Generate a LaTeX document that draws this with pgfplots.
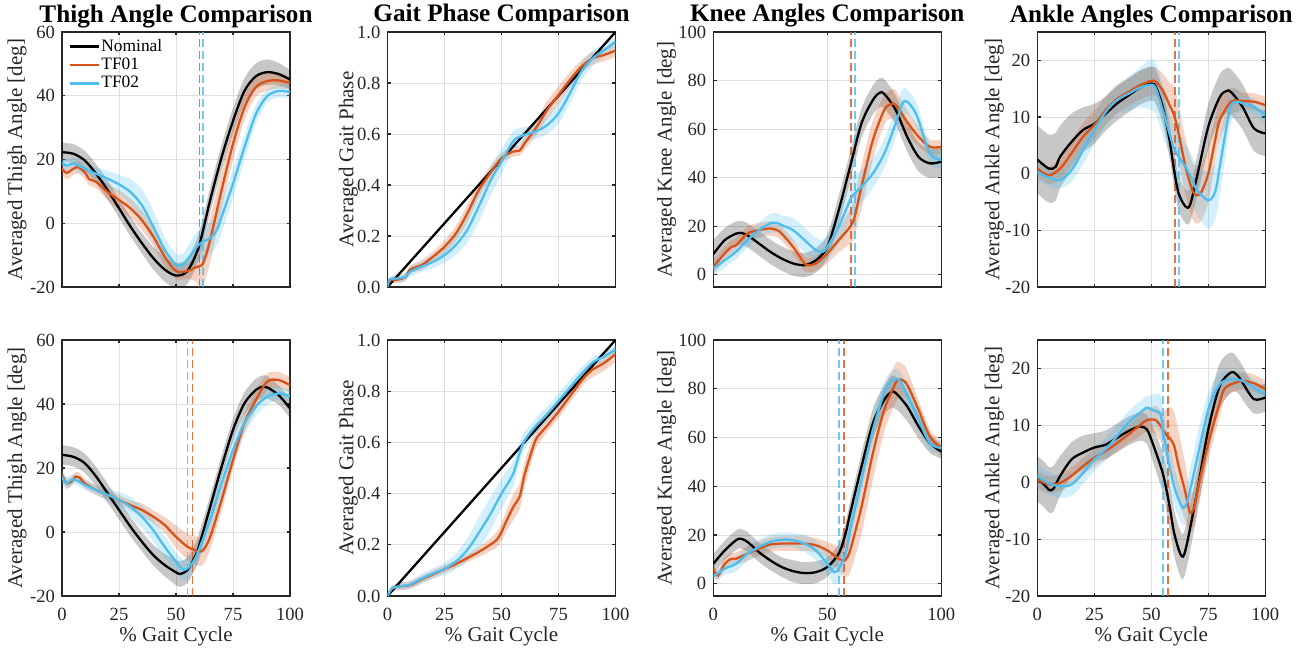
\documentclass[border=0pt]{standalone}
\usepackage{pgfplots}
\usepackage{pgfplotstable}
\pgfplotsset{compat=1.18}
\usepgfplotslibrary{fillbetween}
\usepackage{fontspec}
\setmainfont{Liberation Serif}
\definecolor{tfa}{HTML}{D95319}
\definecolor{tfb}{HTML}{4DBEEE}
\definecolor{axc}{HTML}{262626}

% ---------- Panel A: thigh, PW2S ----------
\pgfplotstableread{
x m s
0 22.3 3
5 21.8 3
10 19.7 3
15 15.5 3
20 10.4 3
25 4.7 3
30 -1 3
35 -6.2 3.2
40 -10.9 3.5
45 -14.5 3.8
50 -16.4 4
55 -15 4
60 -7.3 4
65 7.3 4
70 20.7 4
75 32.1 4
80 41.5 4
85 46.1 4
90 47.4 4
95 46.8 3.5
100 45.1 3
}\tAn
\pgfplotstableread{
x m s
0 17.1 2
2 15.8 2
5 17.1 2
7 17.6 2
10 16 2
12 13.8 2
15 13 2
20 9.8 2.5
25 7.3 3
30 4.7 3
35 1 3
40 -4.1 3
45 -10.4 3
50 -15 2.5
55 -15 2.5
58 -14 4
60 -13.5 6
62 -12.4 7
65 -5.2 7
70 10.4 6
75 24.9 5
80 36.3 4
85 42.7 3
90 44.6 3
95 44.8 2.5
100 44 2
}\tAa
\pgfplotstableread{
x m s
0 19.2 2
2 18.1 2
5 18.7 2
10 17.1 2
15 15.5 2
20 14 2.5
25 12.2 3
30 9.8 4
35 5.7 5
40 -1 5
45 -8.3 4
50 -13 3.5
53 -13 3.5
55 -11.4 4
60 -6.7 5
62 -5.7 5
65 -4.7 5
68 -2 5
70 2 5
75 12.4 4.5
80 23.8 4
85 34.2 3
90 39.9 2
95 41.5 2
100 41.2 2
}\tAb
% ---------- Panel B: gait phase, PW2S ----------
\pgfplotstableread{
x m s
0 0 0
1 0.025 0.01
5 0.03 0.015
8 0.04 0.015
10 0.069 0.015
15 0.086 0.02
20 0.119 0.02
25 0.158 0.025
30 0.21 0.03
35 0.289 0.035
40 0.38 0.03
45 0.446 0.025
50 0.505 0.02
55 0.531 0.02
58 0.535 0.02
60 0.562 0.025
65 0.622 0.03
70 0.694 0.035
75 0.753 0.035
80 0.812 0.03
85 0.864 0.025
90 0.897 0.025
95 0.91 0.025
100 0.927 0.025
}\tBa
\pgfplotstableread{
x m s
0 0 0
1 0.03 0.01
5 0.034 0.015
8 0.04 0.015
10 0.06 0.02
15 0.08 0.02
20 0.099 0.025
25 0.125 0.03
30 0.165 0.04
35 0.224 0.05
40 0.315 0.06
45 0.413 0.06
50 0.492 0.05
55 0.57 0.04
58 0.59 0.035
60 0.597 0.03
65 0.61 0.03
70 0.635 0.035
75 0.681 0.04
80 0.76 0.04
85 0.845 0.035
90 0.897 0.03
95 0.929 0.025
100 0.962 0.02
}\tBb
% ---------- Panel C: knee, PW2S ----------
\pgfplotstableread{
x m s
0 8.5 6
5 14.3 5
10 17 5
12 17.3 5
15 16.3 5
20 12.9 5
25 9.5 5
30 6.7 5
35 4.7 5
40 4 5
45 6 5
50 11.5 5
55 26.6 6
60 44.5 6
65 62.4 6
70 72 6
73 75 6
75 74.5 6
80 67.9 6
85 56.9 6
90 48.6 6
95 45.9 6
100 46.6 6
}\tCn
\pgfplotstableread{
x m s
0 3.3 3
5 8.8 3
8 11.5 3
10 12.2 3
15 17 3
20 18.4 3
25 19.1 3
28 18.4 3
30 17 3
35 11.5 3
40 4.7 3
42 4 3
45 4.7 3
50 8.8 4
55 14.3 5
60 19.8 7
62 23.9 8
65 36.3 9
70 55.5 8
75 67.9 6
78 70.3 6
80 69.9 6
85 63 5
90 56.9 4
95 52.7 3
100 52.7 3
}\tCa
\pgfplotstableread{
x m s
0 2.6 3
5 6 3
10 9.5 3
15 14.3 3
20 18.4 3
25 21.2 4
28 21.4 4
30 20.5 4
35 18.4 5
40 14.3 5
45 10.2 5
48 9.5 5
50 11.5 5
55 19.8 7
60 30.8 8
62 33.5 8
65 36.3 7
70 41.8 6
75 50 6
80 62.4 6
83 70.6 6
85 71.3 5
88 67.9 5
90 63.7 5
95 50 4
100 47.3 4
}\tCb
% ---------- Panel D: ankle, PW2S ----------
\pgfplotstableread{
x m s
0 2.5 6
5 0.9 6
8 1.2 6
10 3 5.5
15 5.6 5
20 7.7 4
25 8.8 3.5
30 10.6 3
35 12.4 3
40 13.8 3
45 15.2 3
50 15.9 3
52 15.3 3
55 11.8 3
58 5.9 3
60 0.6 3
62 -3.5 3
65 -5.8 3
67 -5.5 3
70 -0.6 3.5
75 8.3 4
80 13.5 4
83 14.6 4
85 14.4 4
90 11.8 4
95 8 4
100 7.1 4
}\tDn
\pgfplotstableread{
x m s
0 0.9 1.5
5 -0.3 1.5
10 0.9 2
15 3.6 2
20 6.5 2.5
25 8.6 2.5
30 11.2 2.5
35 13.2 2.5
40 14.4 2.5
45 15.6 2.5
50 16.4 2.5
52 16.2 2.5
55 14.7 3
58 12.1 4
60 10.3 5
62 7.1 5
65 1.2 5
68 -2.9 5
70 -3.8 5
72 -3.2 5
75 0 5
78 5.9 4
80 9.4 3.5
85 12.7 2.5
90 12.8 1.5
95 12.7 1.5
100 12.1 1.5
}\tDa
\pgfplotstableread{
x m s
0 0.3 1.5
5 -0.7 1.5
10 -1.1 1.5
15 0.6 2
20 4.1 2.5
25 7.7 2.5
30 10.9 2.5
35 13 2.5
40 14.1 3
45 15.2 3.5
50 15.7 4.5
52 15 4.5
55 11.2 4.5
58 7.1 4
60 4.4 4
62 3 4
65 1.2 4
68 -1.1 4
70 -2.9 4.5
75 -4.7 5
78 -3.2 5
80 1.2 5
83 8.3 4
85 12.1 3
88 12.7 2
90 12.4 1.5
95 11.8 1.5
100 10.3 1.5
}\tDb
% ---------- Panel E: thigh, IW2S ----------
\pgfplotstableread{
x m s
0 24.1 3
5 23.5 3
10 21.5 3
15 17.3 3
20 12.1 3
25 6.9 3
30 1.7 3
35 -3 3
40 -7.2 3.2
45 -10.3 3.5
50 -12.6 4
52 -13.1 4
55 -11.9 4
58 -8.2 4
60 -4.6 4
65 7.9 3.5
70 20.4 3.5
75 31.9 3.5
80 40.2 3.5
85 44.4 3.5
88 45.4 3.5
90 45.2 3.5
95 42.8 3
100 38.6 3
}\tEn
\pgfplotstableread{
x m s
0 17.8 1.5
2 15.2 1.5
4 15.7 1.5
6 17.3 1.5
8 16.8 1.5
10 15.2 1.5
15 13.1 1.5
20 11.6 1.5
25 10 1.5
30 8.4 1.5
35 6.9 2
40 4.8 2
45 2.2 2.5
50 -1.5 3.5
55 -4.6 4
58 -5.6 4.5
60 -6.1 4.5
62 -5.6 4.5
65 -1.5 4
70 10 3.5
75 22.5 3
80 34 3
85 41.2 3
90 47 2.5
95 47.5 2.5
100 45.9 2.5
}\tEa
\pgfplotstableread{
x m s
0 17.3 2
2 15.2 2
5 16.5 1.5
10 14.7 1.5
15 13.1 1.5
20 11.6 2
25 10 2.5
30 7.9 3
35 4.8 3.5
40 0.6 3.5
45 -4.6 3.5
50 -9.3 3
53 -11.7 3
55 -11.4 3
58 -8.8 3
60 -5.6 3.5
65 3.8 3.5
70 15.2 3.5
75 25.6 3.5
80 34 3.5
85 39.2 3
90 42.3 2.5
95 43.3 2
100 42.5 2
}\tEb
% ---------- Panel F: gait phase, IW2S ----------
\pgfplotstableread{
x m s
0 0 0
2 0.03 0.01
5 0.037 0.015
10 0.043 0.015
15 0.065 0.015
20 0.085 0.015
25 0.105 0.015
30 0.125 0.015
35 0.148 0.015
40 0.172 0.02
45 0.2 0.025
48 0.22 0.03
50 0.25 0.035
52 0.29 0.04
55 0.345 0.05
58 0.39 0.05
60 0.47 0.05
62 0.53 0.045
65 0.61 0.035
68 0.645 0.03
70 0.665 0.025
75 0.72 0.025
80 0.78 0.025
85 0.84 0.025
88 0.87 0.025
90 0.885 0.03
95 0.91 0.03
100 0.945 0.03
}\tFa
\pgfplotstableread{
x m s
0 0 0
2 0.03 0.01
5 0.037 0.015
10 0.045 0.015
15 0.068 0.02
20 0.088 0.02
25 0.106 0.025
30 0.135 0.03
35 0.18 0.045
40 0.246 0.06
45 0.318 0.065
50 0.4 0.06
55 0.475 0.05
58 0.56 0.04
60 0.605 0.035
65 0.664 0.03
70 0.71 0.03
75 0.762 0.03
80 0.814 0.03
85 0.867 0.025
90 0.912 0.02
95 0.936 0.02
100 0.962 0.02
}\tFb
% ---------- Panel G: knee, IW2S ----------
\pgfplotstableread{
x m s
0 8.2 4
5 13.7 4
10 17.9 4
12 18.5 4
15 17.2 4
20 13 4
25 9.6 4
30 6.9 4
35 5.2 4.5
40 4.4 4.5
45 4.8 4.5
50 6.9 4
55 12.4 4
58 20.6 4.5
60 28.8 5
65 48.1 5.5
70 65.9 6
75 75.5 6
78 78.6 6.5
80 78.3 6.5
85 72.8 6
90 64.6 5
95 57.7 4
100 54.3 3
}\tGn
\pgfplotstableread{
x m s
0 6.2 2
2 3.4 2
5 8.2 2.5
8 10.3 2.5
10 10.3 2.5
15 12.4 3
20 14.4 3
25 16.1 3
30 16.5 3
35 16.5 3
40 16.5 3
45 15.8 3
50 13.7 3.5
55 10.3 5
57 9.6 6
58 9.9 7
60 13.7 9
65 31.6 11
70 53.6 11
75 71.4 9
80 82.4 8
82 83.8 7
85 81.7 6
90 71.4 4
95 60.4 3
100 55.6 3
}\tGa
\pgfplotstableread{
x m s
0 3 2
5 6.2 2.5
10 8.2 3
15 12.4 3
20 15.1 3
25 17.2 3
30 18.1 3
35 17.9 3
40 16.5 3.5
45 13.7 4
50 8.2 4.5
53 4.8 5
55 6.2 5
58 12.4 5
60 22 5
65 42.6 5
70 63.2 5
75 78.3 5
78 83.1 4
80 84.1 4
82 83.1 4
85 77.6 4
90 67.3 4
95 57.7 3
100 55.6 2
}\tGb
% ---------- Panel H: ankle, IW2S ----------
\pgfplotstableread{
x m s
0 0.6 4
3 -0.4 4
5 -1.3 4
7 -1.2 4
10 1.1 3.5
15 4 3
20 5.2 3
25 6.1 2.5
30 6.6 2.5
35 7.8 2.5
40 9 2.5
45 9.8 2.5
48 9.3 2.5
50 7.5 3
55 1.6 3.5
58 -4.2 4
60 -8.9 4
63 -12.8 4
65 -11.9 4
70 -1.9 4
75 9.3 4
80 16.9 4
85 19.3 3.5
88 18.7 3
90 17.5 3
95 14.6 2.5
100 14.9 2.5
}\tHn
\pgfplotstableread{
x m s
0 0.5 1.5
5 -0.4 1.5
10 -0.1 1.5
15 1.1 1.5
20 2.8 1.5
25 4.3 1.5
30 5.5 1.5
35 6.9 1.5
40 8.4 1.5
45 10 2
48 10.9 2
52 10.9 2.5
55 9.3 3
57 8.1 5
58 7.8 5.5
60 6.4 6
62 2.8 6
65 -1.9 5
67 -5.4 3.5
69 -4.2 3
70 -1.9 3
75 6.9 3
80 14 2.5
82 16.4 2
85 17.2 1.5
90 17.8 1.5
95 17.4 1.5
100 16.4 1.5
}\tHa
\pgfplotstableread{
x m s
0 1.1 2
5 -0.2 2
10 -0.7 2
15 -0.4 2
20 1.6 2
25 4 2
30 5.8 2
35 8.1 2
40 10.5 2
45 12.2 2
48 13.1 2
50 12.8 2.5
54 12 3.5
55 9.3 4
58 2.8 4
60 -0.7 3.5
62 -3.1 3
64 -4.5 3
66 -3.1 3.5
70 4 4
75 12.8 3
80 17.2 2
85 18.1 1.5
90 17.8 1.5
95 16.6 1.5
100 15.5 1.5
}\tHb

\newcommand{\band}[4]{%
  \addplot[draw=none, name path=#4u, smooth, forget plot] table[x=x, y expr=\thisrow{m}+\thisrow{s}] {#1};
  \addplot[draw=none, name path=#4l, smooth, forget plot] table[x=x, y expr=\thisrow{m}-\thisrow{s}] {#1};
  \addplot[fill=#2, fill opacity=#3, draw=none, forget plot] fill between[of=#4u and #4l];
}
\newcommand{\mean}[2]{%
  \addplot[#2, line width=1.15pt, smooth] table[x=x, y=m] {#1};
}
\newcommand{\toline}[4]{%
  \addplot[#2, opacity=0.8, line width=0.9pt, dash pattern=on 4pt off 2pt, forget plot] coordinates {(#1,#3) (#1,#4)};
}

\pgfplotsset{
  gbase/.style={
    scale only axis, width=114pt, xmin=0, xmax=100,
    xtick={0,25,50,75,100},
    tick align=inside, tick pos=both,
    major tick length=1.6pt,
    grid=major, major grid style={draw=gray!25, line width=0.45pt},
    axis line style={draw=axc, line width=0.6pt},
    every tick/.append style={axc, line width=0.6pt},
    /pgf/number format/assume math mode=true,
    xticklabel={\pgfmathprintnumber{\tick}},
    yticklabel={\pgfmathprintnumber{\tick}},
    tick label style={font=\fontsize{9.3}{10}\selectfont, text=axc},
    xticklabel style={anchor=base, yshift=-12.25pt},
    label style={font=\fontsize{10.5}{12}\selectfont, text=axc},
    every axis title/.style={font=\fontsize{12.6}{14}\selectfont\bfseries, at={(axis description cs:0.5,1)}, anchor=base, yshift=5pt},
  },
  toprow/.style={height=127.5pt, xticklabels={}},
  botrow/.style={height=128pt, xlabel={\% Gait Cycle}, xlabel style={at={(axis description cs:0.5,-0.176)}, anchor=base}},
  thigh/.style={ymin=-20, ymax=60, ytick={-20,0,...,60}, ylabel={Averaged Thigh Angle [deg]}, ylabel style={at={(axis description cs:-0.175,0.5)}, anchor=base}},
  gait/.style={ymin=0, ymax=1, ytick={0,0.2,...,1.01}, yticklabel style={/pgf/number format/.cd, fixed, fixed zerofill, precision=1}, ylabel={Averaged Gait Phase}, ylabel style={at={(axis description cs:-0.15,0.5)}, anchor=base}},
  knee/.style={ymin=-5, ymax=100, ytick={0,20,...,100}, xtick={0,50,100}, ylabel={Averaged Knee Angle [deg]}, ylabel style={at={(axis description cs:-0.183,0.5)}, anchor=base}},
  ankle/.style={ymin=-20, ymax=25, ytick={-20,-10,...,20}, ylabel={Averaged Ankle Angle [deg]}, ylabel style={at={(axis description cs:-0.166,0.5)}, anchor=base}},
}

\begin{document}
\begin{tikzpicture}

% ===== Top row =====
\begin{axis}[gbase, toprow, thigh, at={(31pt,183.5pt)}, anchor=south west,
  title={Thigh Angle Comparison},
  legend style={at={(axis description cs:0.0,0.995)}, anchor=north west, draw=none, fill=none,
    font=\fontsize{8.7}{9}\selectfont, text=black, row sep=0.4pt, nodes={inner sep=0.7pt}},
  legend cell align=left,
  legend image code/.code={\draw[#1, line width=1.3pt] (0pt,0pt) -- (14.5pt,0pt);}]
\band{\tAn}{black}{0.22}{An}
\band{\tAa}{tfa}{0.25}{Aa}
\band{\tAb}{tfb}{0.25}{Ab}
\toline{60.3}{tfa}{-20}{60}
\toline{62.0}{tfb}{-20}{60}
\mean{\tAn}{black}
\mean{\tAa}{tfa}
\mean{\tAb}{tfb}
\legend{Nominal,TF01,TF02}
\end{axis}

\begin{axis}[gbase, toprow, gait, at={(193.75pt,183.5pt)}, anchor=south west,
  title={Gait Phase Comparison}]
\band{\tBa}{tfa}{0.25}{Ba}
\band{\tBb}{tfb}{0.25}{Bb}
\addplot[black, line width=1.15pt] coordinates {(0,0) (100,1)};
\mean{\tBa}{tfa}
\mean{\tBb}{tfb}
\end{axis}

\begin{axis}[gbase, toprow, knee, at={(356.65pt,183.5pt)}, anchor=south west,
  title={Knee Angles Comparison}]
\band{\tCn}{black}{0.22}{Cn}
\band{\tCa}{tfa}{0.25}{Ca}
\band{\tCb}{tfb}{0.25}{Cb}
\toline{60.3}{tfa}{-5}{100}
\toline{62.0}{tfb}{-5}{100}
\mean{\tCn}{black}
\mean{\tCa}{tfa}
\mean{\tCb}{tfb}
\end{axis}

\begin{axis}[gbase, toprow, ankle, at={(518.65pt,183.5pt)}, anchor=south west,
  title={Ankle Angles Comparison}]
\band{\tDn}{black}{0.22}{Dn}
\band{\tDa}{tfa}{0.25}{Da}
\band{\tDb}{tfb}{0.25}{Db}
\toline{60.3}{tfa}{-20}{25}
\toline{62.0}{tfb}{-20}{25}
\mean{\tDn}{black}
\mean{\tDa}{tfa}
\mean{\tDb}{tfb}
\node[rotate=90, anchor=base, font=\fontsize{10.5}{12}\selectfont, text=black] at (axis description cs:1.117,0.5) {PW2S};
\end{axis}

% ===== Bottom row =====
\begin{axis}[gbase, botrow, thigh, at={(31pt,29pt)}, anchor=south west]
\band{\tEn}{black}{0.22}{En}
\band{\tEa}{tfa}{0.25}{Ea}
\band{\tEb}{tfb}{0.25}{Eb}
\toline{57.2}{tfa}{-20}{60}
\toline{55.0}{tfb}{-20}{60}
\mean{\tEn}{black}
\mean{\tEa}{tfa}
\mean{\tEb}{tfb}
\end{axis}

\begin{axis}[gbase, botrow, gait, at={(193.75pt,29pt)}, anchor=south west]
\band{\tFa}{tfa}{0.25}{Fa}
\band{\tFb}{tfb}{0.25}{Fb}
\addplot[black, line width=1.15pt] coordinates {(0,0) (100,1)};
\mean{\tFa}{tfa}
\mean{\tFb}{tfb}
\end{axis}

\begin{axis}[gbase, botrow, knee, at={(356.65pt,29pt)}, anchor=south west]
\band{\tGn}{black}{0.22}{Gn}
\band{\tGa}{tfa}{0.25}{Ga}
\band{\tGb}{tfb}{0.25}{Gb}
\toline{57.2}{tfa}{-5}{100}
\toline{55.0}{tfb}{-5}{100}
\mean{\tGn}{black}
\mean{\tGa}{tfa}
\mean{\tGb}{tfb}
\end{axis}

\begin{axis}[gbase, botrow, ankle, at={(518.65pt,29pt)}, anchor=south west]
\band{\tHn}{black}{0.22}{Hn}
\band{\tHa}{tfa}{0.25}{Ha}
\band{\tHb}{tfb}{0.25}{Hb}
\toline{57.2}{tfa}{-20}{25}
\toline{55.0}{tfb}{-20}{25}
\mean{\tHn}{black}
\mean{\tHa}{tfa}
\mean{\tHb}{tfb}
\node[rotate=90, anchor=base, font=\fontsize{10.5}{12}\selectfont, text=black] at (axis description cs:1.117,0.5) {IW2S};
\end{axis}

\pgfresetboundingbox
\path[use as bounding box] (0,0) rectangle (653pt,327pt);
\end{tikzpicture}
\end{document}
